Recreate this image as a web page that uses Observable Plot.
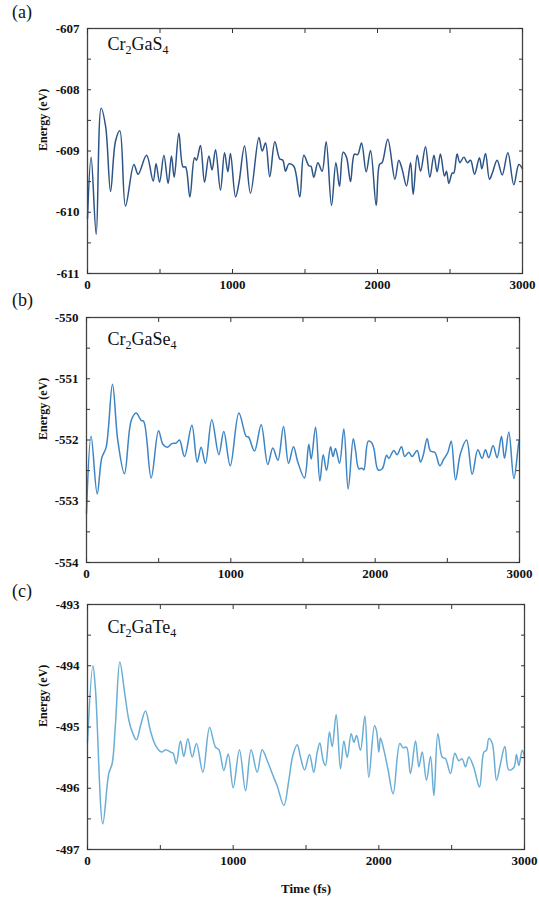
<!DOCTYPE html>
<html><head><meta charset="utf-8">
<script src="https://cdn.jsdelivr.net/npm/d3@7"></script>
<script src="https://cdn.jsdelivr.net/npm/@observablehq/plot@0.6"></script>
<style>
body{margin:0;background:#fff;}
#wrap{position:relative;width:539px;height:901px;font-family:"Liberation Serif","Times New Roman",serif;color:#111;}
#wrap svg{overflow:visible;}
#wrap svg text{font-family:"Liberation Serif","Times New Roman",serif;}
.panel{position:absolute;left:0;}
.plab{position:absolute;left:12px;font-size:18px;line-height:18px;}
</style></head><body><div id="wrap"></div>
<script>
const panelLetters = ["(a)", "(b)", "(c)"];
const compounds = ["Cr2GaS4", "Cr2GaSe4", "Cr2GaTe4"];
const xLabel = "Time (fs)";
const yLabel = "Energy (eV)";
const xMajorTicks = [0, 1000, 2000, 3000];
const yDomains = [[-611, -607], [-554, -550], [-497, -493]];
const lineColors = ["#2d5486", "#3d84c4", "#6aaed6"];

const timeA = [0, 25, 60, 94, 125, 159, 193, 223, 262, 320, 349, 407, 453, 473, 497, 527, 556, 579, 598, 630, 659, 676, 706, 738, 752, 779, 807, 837, 859, 883, 917, 945, 968, 986, 1021, 1044, 1083, 1124, 1182, 1205, 1228, 1257, 1292, 1326, 1347, 1366, 1389, 1423, 1464, 1492, 1526, 1541, 1561, 1589, 1618, 1646, 1683, 1713, 1738, 1763, 1786, 1814, 1841, 1863, 1890, 1922, 1952, 1991, 2014, 2032, 2071, 2120, 2147, 2170, 2200, 2228, 2246, 2274, 2297, 2331, 2361, 2389, 2411, 2434, 2462, 2476, 2492, 2515, 2526, 2549, 2568, 2596, 2619, 2642, 2669, 2703, 2720, 2745, 2772, 2792, 2825, 2860, 2899, 2940, 2975, 3000];
const energyA = [-610.1, -609.1, -610.36, -608.3, -608.6, -609.66, -608.84, -608.67, -609.9, -609.22, -609.38, -609.07, -609.49, -609.21, -609.51, -609.07, -609.53, -609.08, -609.43, -608.71, -609.26, -609.26, -609.75, -609.11, -609.15, -608.91, -609.51, -609.08, -609.31, -608.98, -609.64, -609.03, -609.34, -609.04, -609.75, -609.53, -608.92, -609.69, -608.78, -609.0, -608.87, -609.42, -608.85, -609.13, -609.15, -609.33, -609.21, -609.25, -609.75, -609.07, -609.24, -609.25, -609.43, -609.19, -609.33, -608.85, -609.89, -609.19, -609.58, -609.02, -609.1, -609.5, -609.05, -609.06, -608.87, -609.34, -608.99, -609.89, -609.22, -609.19, -608.81, -609.46, -609.15, -609.3, -609.57, -609.19, -609.71, -609.07, -609.33, -608.93, -609.43, -609.07, -609.34, -609.05, -609.41, -609.33, -609.53, -609.36, -609.36, -609.05, -609.19, -609.1, -609.19, -609.15, -609.38, -609.11, -609.29, -609.04, -609.46, -609.36, -609.15, -609.39, -609.03, -609.55, -609.22, -609.29];

const timeB = [0, 32, 74, 106, 136, 180, 217, 263, 310, 344, 379, 397, 448, 499, 529, 560, 591, 621, 644, 679, 730, 767, 794, 824, 868, 917, 951, 996, 1056, 1106, 1122, 1164, 1210, 1256, 1291, 1326, 1365, 1400, 1434, 1464, 1510, 1540, 1557, 1587, 1617, 1640, 1663, 1691, 1708, 1725, 1753, 1783, 1813, 1848, 1864, 1887, 1910, 1922, 1952, 1975, 1991, 2021, 2049, 2079, 2095, 2129, 2152, 2182, 2205, 2233, 2256, 2291, 2314, 2333, 2360, 2383, 2413, 2448, 2476, 2504, 2527, 2557, 2591, 2633, 2672, 2711, 2741, 2764, 2787, 2817, 2845, 2875, 2896, 2926, 2961, 2995, 3000];
const energyB = [-553.2, -551.94, -552.88, -552.29, -552.12, -551.09, -552.01, -552.55, -551.68, -551.56, -551.68, -551.7, -552.62, -551.85, -552.07, -552.12, -552.06, -552.05, -552.0, -552.27, -551.76, -552.36, -552.12, -552.38, -551.67, -552.24, -551.86, -552.42, -551.56, -551.94, -551.95, -552.18, -551.75, -552.4, -552.13, -552.33, -551.78, -552.38, -552.11, -552.36, -552.62, -552.07, -552.31, -551.79, -552.67, -552.24, -552.5, -552.11, -552.27, -552.14, -552.38, -551.82, -552.8, -551.98, -552.17, -552.47, -552.46, -552.49, -552.02, -552.04, -552.14, -552.49, -552.47, -552.25, -552.3, -552.17, -552.24, -552.11, -552.27, -552.2, -552.27, -552.17, -552.36, -552.25, -551.98, -552.18, -552.2, -552.42, -552.31, -552.2, -552.02, -552.65, -552.22, -552.0, -552.56, -552.16, -552.3, -552.16, -552.29, -552.09, -552.29, -551.94, -552.3, -551.87, -552.63, -552.04, -552.0];

const timeC = [0, 37, 55, 105, 146, 169, 192, 222, 256, 284, 307, 336, 364, 398, 432, 467, 508, 535, 570, 588, 609, 638, 661, 689, 719, 748, 792, 838, 879, 902, 936, 966, 1000, 1043, 1085, 1123, 1165, 1199, 1234, 1268, 1302, 1348, 1382, 1409, 1440, 1462, 1490, 1524, 1553, 1577, 1595, 1618, 1634, 1661, 1680, 1707, 1737, 1760, 1783, 1810, 1829, 1847, 1874, 1904, 1931, 1970, 1984, 2000, 2011, 2034, 2062, 2098, 2144, 2167, 2190, 2217, 2252, 2275, 2298, 2327, 2355, 2378, 2405, 2435, 2458, 2492, 2522, 2549, 2572, 2595, 2618, 2652, 2691, 2721, 2739, 2755, 2778, 2808, 2835, 2865, 2892, 2927, 2945, 2961, 2984, 3000];
const energyC = [-495.25, -494.0, -494.4, -496.58, -495.76, -495.6, -494.95, -493.94, -494.46, -494.89, -495.08, -495.21, -494.98, -494.74, -495.06, -495.3, -495.41, -495.37, -495.41, -495.43, -495.6, -495.23, -495.48, -495.19, -495.49, -495.27, -495.74, -495.01, -495.33, -495.37, -495.71, -495.44, -495.99, -495.37, -496.04, -495.37, -495.74, -495.37, -495.55, -495.76, -495.96, -496.28, -495.87, -495.47, -495.29, -495.49, -495.7, -495.45, -495.74, -495.41, -495.26, -495.55, -495.63, -495.08, -495.32, -494.8, -495.68, -495.23, -495.5, -495.11, -495.25, -495.14, -495.38, -494.82, -495.82, -494.98, -495.06, -495.41, -495.18, -495.37, -495.68, -496.09, -495.27, -495.34, -495.33, -495.76, -495.23, -495.65, -495.41, -495.87, -495.48, -496.12, -495.11, -495.49, -495.52, -495.76, -495.43, -495.55, -495.52, -495.65, -495.49, -495.66, -495.98, -495.41, -495.38, -495.19, -495.26, -495.87, -495.6, -495.32, -495.7, -495.66, -495.45, -495.63, -495.38, -495.49];

const times = [timeA, timeB, timeC];
const energies = [energyA, energyB, energyC];

const layouts = [
  {top: 0,   height: 296, mt: 28, mb: 23, ml: 87, mr: 17, tdx: 20, tdy: 16, ldx: -44, letterTop: 3},
  {top: 296, height: 290, mt: 21, mb: 24, ml: 86, mr: 20, tdx: 21, tdy: 22, ldx: -43, letterTop: 291},
  {top: 586, height: 315, mt: 18, mb: 52, ml: 87, mr: 15, tdx: 20, tdy: 23, ldx: -44, letterTop: 582}
];

const wrap = document.getElementById("wrap");
const serif = "'Liberation Serif','Times New Roman',serif";

function subscriptify(svg) {
  d3.select(svg).selectAll("text").each(function () {
    const s = this.textContent;
    if (!compounds.includes(s)) return;
    const sel = d3.select(this);
    sel.text(null);
    let prevSub = false;
    s.split(/(\d+)/).filter(p => p).forEach(p => {
      const isSub = /^\d+$/.test(p);
      const t = sel.append("tspan").text(p);
      if (isSub) { t.attr("dy", 4).attr("font-size", 12); }
      else if (prevSub) { t.attr("dy", -4); }
      prevSub = isSub;
    });
  });
}

for (let i = 0; i < 3; i++) {
  const L = layouts[i];
  const data = times[i].map((t, j) => ({t, e: energies[i][j]}));
  const [y0, y1] = yDomains[i];
  const yMinor = d3.range(y0, y1 + 0.001, 0.5);
  const yMajor = d3.range(y0, y1 + 0.001, 1);
  const xMinor = d3.range(0, 3001, 500);
  const marks = [
    Plot.line(data, {x: "t", y: "e", stroke: lineColors[i], strokeWidth: 1.5, curve: "catmull-rom"}),
    Plot.frame({stroke: "#444", strokeWidth: 1.3}),
    Plot.axisX(xMinor, {anchor: "bottom", tickSize: -4, tickFormat: () => "", label: null, stroke: "#333"}),
    Plot.axisX(xMinor, {anchor: "top", tickSize: -4, tickFormat: () => "", label: null, stroke: "#333"}),
    Plot.axisX(xMajorTicks, {anchor: "bottom", tickSize: 0, tickPadding: 6, tickFormat: d => String(d), label: null}),
    Plot.axisY(yMinor, {anchor: "left", tickSize: -4, tickFormat: () => "", label: null, stroke: "#333"}),
    Plot.axisY(yMinor, {anchor: "right", tickSize: -4, tickFormat: () => "", label: null, stroke: "#333"}),
    Plot.axisY(yMajor, {anchor: "left", tickSize: 0, tickPadding: 8, tickFormat: d => String(d), label: null}),
    Plot.text([yLabel], {frameAnchor: "left", dx: L.ldx, rotate: -90, text: d => d, fontSize: 12, fontWeight: "bold"}),
    Plot.text([compounds[i]], {frameAnchor: "top-left", dx: L.tdx, dy: L.tdy, text: d => d, fontSize: 18, fontWeight: "normal", textAnchor: "start", lineAnchor: "middle"})
  ];
  if (i === 2) marks.push(Plot.text([xLabel], {frameAnchor: "bottom", dy: 39, text: d => d, fontSize: 13, fontWeight: "bold", lineAnchor: "middle"}));
  const svg = Plot.plot({
    width: 539, height: L.height,
    marginTop: L.mt, marginBottom: L.mb, marginLeft: L.ml, marginRight: L.mr,
    x: {domain: [0, 3000], label: null},
    y: {domain: yDomains[i], label: null},
    style: {fontFamily: serif, fontSize: "13px", fontWeight: "bold", background: "transparent", color: "#111"},
    marks
  });
  subscriptify(svg);
  svg.classList.add("panel");
  svg.style.top = L.top + "px";
  svg.style.position = "absolute";
  wrap.appendChild(svg);
  const lab = document.createElement("div");
  lab.className = "plab";
  lab.style.top = L.letterTop + "px";
  lab.textContent = panelLetters[i];
  wrap.appendChild(lab);
}
</script></body></html>
